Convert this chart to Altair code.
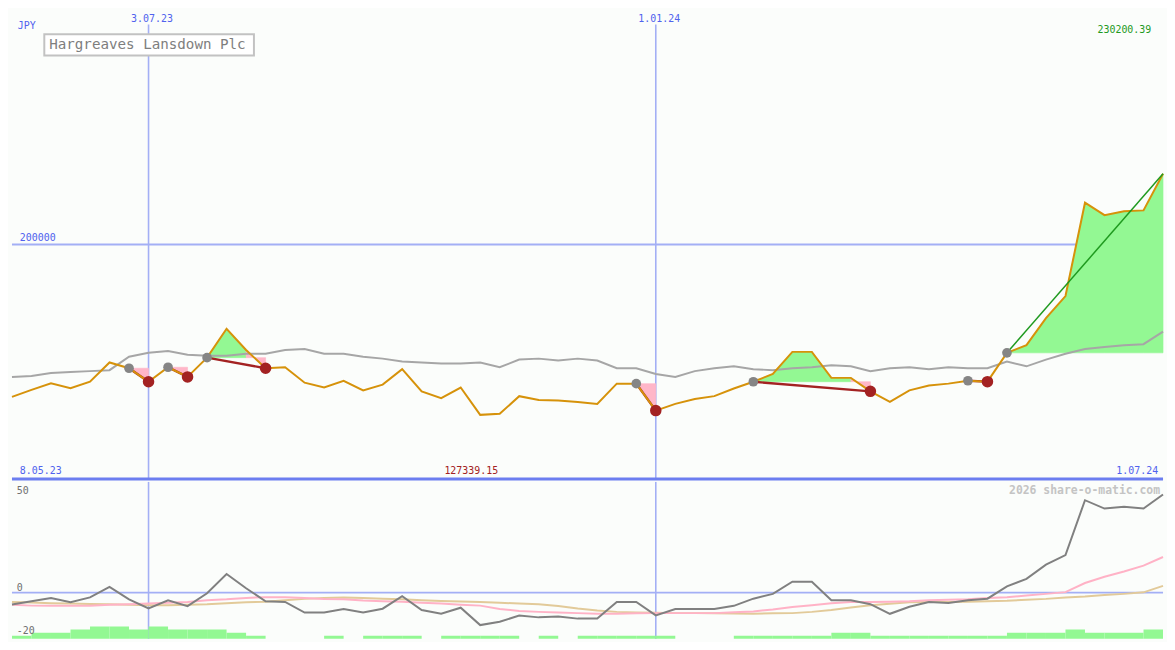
import altair as alt
import pandas as pd

# ---------------- layout ----------------
W = 1159
H1 = 472
H2 = 158
SX = W / 1175
SY = H1 / 487
SY2 = H2 / 163

FONT = "DejaVu Sans Mono"
BG = "#fbfdfb"
BLUE_TXT = "#5062ee"
GRID = "#a3aff5"
DIVIDER = "#6c7ef0"
ORANGE = "#d6920a"
MA_GRAY = "#a6a6a6"
GREEN_FILL = "#93f893"
PINK_FILL = "#ffb6c8"
DARK_RED = "#a32222"
GREEN_LINE = "#1f9a1f"

# ---------------- data ----------------
dates = pd.date_range("2023-05-15", periods=60, freq="7D")

price = [135030, 137990, 140780, 138730, 141480, 149690, 147230, 141480, 147640, 143530,
         151750, 164070, 155030, 147230, 147640, 141070, 139010, 141890, 137780, 140250,
         146820, 137370, 134500, 139010, 127339.15, 127800, 135320, 133680, 133500, 132850,
         132030, 140660, 140660, 129160, 132030, 134090, 135320, 138600, 141480, 144760,
         154210, 154210, 143120, 143120, 137370, 132850, 137780, 139840, 140660, 141890,
         141500, 153800, 157080, 168580, 178030, 217860, 212530, 214170, 214580, 230200.39]

ma = [143530, 143940, 145170, 145580, 146000, 146410, 152160, 153800, 154620, 152980,
      152570, 152570, 153390, 153390, 155030, 155440, 153390, 153390, 152160, 151330,
      150100, 149690, 149280, 149280, 149690, 147640, 150920, 151330, 150510, 151330,
      150510, 147230, 147230, 144760, 143530, 146000, 147230, 148050, 146820, 146410,
      147230, 147640, 148460, 148050, 146000, 147230, 147640, 146820, 147640, 147230,
      147230, 150100, 148050, 150920, 153390, 155440, 156260, 157080, 157490, 162830]

osc = [-6.15, -4.5, -2.85, -5, -2.5, 3, -3.5, -8.25, -4, -7,
       -0.35, 9.65, 2.25, -4.5, -4.85, -10.35, -10.35, -8.5, -10.35, -8.35,
       -1.85, -9, -11, -7.85, -16.85, -15.15, -11.85, -12.85, -12.35, -13.5,
       -13.5, -4.85, -4.85, -11.85, -8.5, -8.5, -8.5, -6.85, -3.15, -0.65,
       5.65, 5.65, -4, -4, -6, -11, -7.35, -4.85, -5.35, -4,
       -3.15, 3.25, 7.15, 14.5, 19.5, 48, 43.65, 44.65, 43.65, 51]

pink = [-6.25, -6.75, -6.85, -6.85, -6.85, -6.25, -6, -5.65, -5.25, -4.85,
        -4, -3.5, -2.75, -2.35, -2.35, -2.75, -3.25, -3.5, -4.15, -4.5,
        -4.75, -5.25, -5.65, -6.25, -6.75, -8.5, -9.5, -10, -10.35, -10.65,
        -11, -11, -10.75, -10.65, -10.65, -10.65, -10.65, -10.25, -9.75, -8.75,
        -7.5, -6.5, -5.5, -4.85, -4.85, -4.75, -4.5, -4, -3.75, -3.5,
        -2.85, -2.35, -1.5, -0.65, 0.25, 5, 8.25, 11, 14, 18.5]

tan = [-4.85, -5.15, -5.5, -5.65, -5.85, -6, -6.25, -6.5, -6.5, -6.25,
       -6, -5.5, -5, -4.75, -4, -3.25, -2.75, -2.5, -2.75, -3.15,
       -3.5, -4, -4.35, -4.65, -4.85, -5.25, -5.65, -6, -7, -8.25,
       -9.25, -10, -10.35, -10.5, -10.65, -10.65, -10.75, -10.85, -11, -10.75,
       -10.65, -10, -9, -7.75, -6.5, -5.75, -5, -4.85, -4.85, -4.75,
       -4.5, -4.25, -3.75, -3.25, -2.5, -2, -1.25, -0.65, 0.15, 3.5]

bars = [1, 2, 2, 3, 4, 4, 3, 4, 3, 3,
        3, 2, 1, 0, 0, 0, 1, 0, 1, 1,
        1, 0, 1, 1, 1, 1, 0, 1, 0, 1,
        1, 1, 1, 1, 0, 0, 0, 1, 1, 1,
        1, 1, 2, 2, 1, 1, 1, 1, 1, 1,
        1, 2, 2, 2, 3, 2, 2, 2, 3, 3]

entries = [6, 8, 10, 32, 38, 49, 51]
exits = [7, 9, 13, 33, 44, 50, None]

grid_dates = pd.to_datetime(["2023-07-03", "2024-01-01"])
grid_labels = ["3.07.23", "1.01.24"]

title = "Hargreaves Lansdown Plc"
currency = "JPY"
last_label = "230200.39"
min_label = "127339.15"
min_index = 24
level_label = "200000"
first_date_label = "8.05.23"
last_date_label = "1.07.24"
osc_labels = ["50", "0", "-20"]
credit = "2026 share-o-matic.com"

# ---------------- tables ----------------
main = pd.DataFrame({"date": dates, "price": price, "ma": ma})
lower = pd.DataFrame({"date": dates, "osc": osc, "pink": pink, "tan": tan})
bar_df = pd.DataFrame({"date": dates, "end": dates + pd.Timedelta(days=7), "lvl": bars})
bar_df = bar_df[bar_df["lvl"] > 0]

fill_rows = []
trade_rows = []
run = 0
for t, (e, x) in enumerate(zip(entries, exits)):
    end = x if x is not None else len(price) - 1
    lvl = price[e]
    prev_kind = None
    for k in range(e, end):
        kind = "up" if price[k + 1] > lvl else "down"
        if kind != prev_kind:
            run += 1
            fill_rows.append({"date": dates[k], "price": price[k], "entry": lvl,
                              "seg": run, "kind": kind})
        fill_rows.append({"date": dates[k + 1], "price": price[k + 1], "entry": lvl,
                          "seg": run, "kind": kind})
        prev_kind = kind
    trade_rows.append({"d1": dates[e], "p1": price[e], "d2": dates[end], "p2": price[end],
                       "kind": "closed" if x is not None else "open"})
fills = pd.DataFrame(fill_rows)
trades = pd.DataFrame(trade_rows)
entry_df = pd.DataFrame({"date": [dates[i] for i in entries], "price": [price[i] for i in entries]})
exit_df = pd.DataFrame({"date": [dates[i] for i in exits if i is not None],
                        "price": [price[i] for i in exits if i is not None]})
grid_df = pd.DataFrame({"date": grid_dates, "label": grid_labels})

# ---------------- scales ----------------
xs = alt.Scale(domain=[alt.DateTime(year=2023, month=5, date=15),
                       alt.DateTime(year=2024, month=7, date=1)])
ys = alt.Scale(domain=[100000, 300000])
ys2 = alt.Scale(domain=[-24, 57.5])


def X(field="date"):
    return alt.X(f"{field}:T", scale=xs, axis=None)


def label(text, x, y, color, align="left", size=10, weight="normal"):
    return alt.Chart(pd.DataFrame({"t": [text]})).mark_text(
        font=FONT, fontSize=size, color=color, align=align, baseline="middle",
        fontWeight=weight
    ).encode(text="t:N", x=alt.value(x), y=alt.value(y))


def fill_layer(kind, color):
    return alt.Chart(fills[fills["kind"] == kind]).mark_area(
        interpolate="linear", opacity=1, color=color, stroke=color, strokeWidth=0.6
    ).encode(
        x=X(),
        y=alt.Y("price:Q", scale=ys, axis=None, stack=None),
        y2="entry:Q",
        detail="seg:N")


def trade_layer(kind, color, width):
    return alt.Chart(trades[trades["kind"] == kind]).mark_rule(
        strokeWidth=width, color=color
    ).encode(
        x=X("d1"), x2="d2:T",
        y=alt.Y("p1:Q", scale=ys, axis=None), y2="p2:Q")


# ---------------- top panel ----------------
vgrid_top = alt.Chart(grid_df).mark_rule(color=GRID, strokeWidth=1.6).encode(
    x=X(), y=alt.value(15 * SY), y2=alt.value(H1))
hgrid_top = alt.Chart(pd.DataFrame({"v": [200000]})).mark_rule(color=GRID, strokeWidth=2).encode(
    y=alt.Y("v:Q", scale=ys, axis=None))
divider = alt.Chart(pd.DataFrame({"v": [100000]})).mark_rule(color=DIVIDER, strokeWidth=3).encode(
    y=alt.Y("v:Q", scale=ys, axis=None))

ma_line = alt.Chart(main).mark_line(color=MA_GRAY, strokeWidth=2).encode(
    x=X(), y=alt.Y("ma:Q", scale=ys, axis=None))
price_line = alt.Chart(main).mark_line(color=ORANGE, strokeWidth=2).encode(
    x=X(), y=alt.Y("price:Q", scale=ys, axis=None))

entry_dots = alt.Chart(entry_df).mark_circle(color="#858585", opacity=1, size=95).encode(
    x=X(), y=alt.Y("price:Q", scale=ys, axis=None))
exit_dots = alt.Chart(exit_df).mark_circle(color=DARK_RED, opacity=1, size=135).encode(
    x=X(), y=alt.Y("price:Q", scale=ys, axis=None))

date_labels = alt.Chart(grid_df).mark_text(
    font=FONT, fontSize=10, color=BLUE_TXT, align="center", baseline="middle", dx=3.5
).encode(x=X(), y=alt.value(9 * SY), text="label:N")

min_df = pd.DataFrame({"date": [dates[min_index]], "t": [min_label]})
min_text = alt.Chart(min_df).mark_text(
    font=FONT, fontSize=10, color=DARK_RED, align="center", baseline="middle", dx=-9
).encode(x=X(), y=alt.value(479 * SY), text="t:N")

title_box = alt.Chart(pd.DataFrame({"t": [title]})).mark_rect(
    fill="white", stroke="#c2c2c2", strokeWidth=2
).encode(x=alt.value(33 * SX), x2=alt.value(247 * SX), y=alt.value(25 * SY), y2=alt.value(47 * SY))
title_text = label(title, 38 * SX, 36.5 * SY, "#7e7e7e", size=14.3)

top = alt.layer(
    vgrid_top, hgrid_top,
    fill_layer("up", GREEN_FILL), fill_layer("down", PINK_FILL),
    ma_line,
    trade_layer("closed", DARK_RED, 2.4),
    price_line,
    trade_layer("open", GREEN_LINE, 1.5),
    entry_dots, exit_dots,
    divider, date_labels, min_text,
    label(currency, 6 * SX, 16.5 * SY, BLUE_TXT),
    label(last_label, 1163 * SX, 21 * SY, GREEN_LINE, align="right"),
    label(level_label, 8 * SX, 237 * SY, BLUE_TXT),
    label(first_date_label, 8 * SX, 479 * SY, BLUE_TXT),
    label(last_date_label, 1170 * SX, 479 * SY, BLUE_TXT, align="right"),
    title_box, title_text,
).properties(width=W, height=H1)

# ---------------- bottom panel ----------------
vgrid_bot = alt.Chart(grid_df).mark_rule(color=GRID, strokeWidth=1.6).encode(x=X())
zero_rule = alt.Chart(pd.DataFrame({"v": [0]})).mark_rule(color=GRID, strokeWidth=2).encode(
    y=alt.Y("v:Q", scale=ys2, axis=None))

bar_marks = alt.Chart(bar_df).transform_calculate(
    top="-24 + datum.lvl * 1.6", base="-25"
).mark_rect(color=GREEN_FILL, clip=True).encode(
    x=X(), x2="end:T",
    y=alt.Y("top:Q", scale=ys2, axis=None), y2="base:Q")

tan_line = alt.Chart(lower).mark_line(color="#e2ca99", strokeWidth=2).encode(
    x=X(), y=alt.Y("tan:Q", scale=ys2, axis=None))
pink_line = alt.Chart(lower).mark_line(color="#ffb2c6", strokeWidth=2).encode(
    x=X(), y=alt.Y("pink:Q", scale=ys2, axis=None))
osc_line = alt.Chart(lower).mark_line(color="#808080", strokeWidth=2).encode(
    x=X(), y=alt.Y("osc:Q", scale=ys2, axis=None))

bottom = alt.layer(
    zero_rule, vgrid_bot, bar_marks, tan_line, pink_line, osc_line,
    label(osc_labels[0], 5 * SX, 9 * SY2, "#707070"),
    label(osc_labels[1], 5 * SX, 110 * SY2, "#707070"),
    label(osc_labels[2], 5 * SX, 155 * SY2, "#707070"),
    label(credit, 1172 * SX, 9 * SY2, "#c4c4c4", align="right", size=11.5, weight="bold"),
).properties(width=W, height=H2)

chart = alt.vconcat(top, bottom, spacing=0).properties(
    padding=0, background=BG
).configure_view(strokeWidth=0)

chart.save("out.html", embed_options={"renderer": "svg", "actions": False})
